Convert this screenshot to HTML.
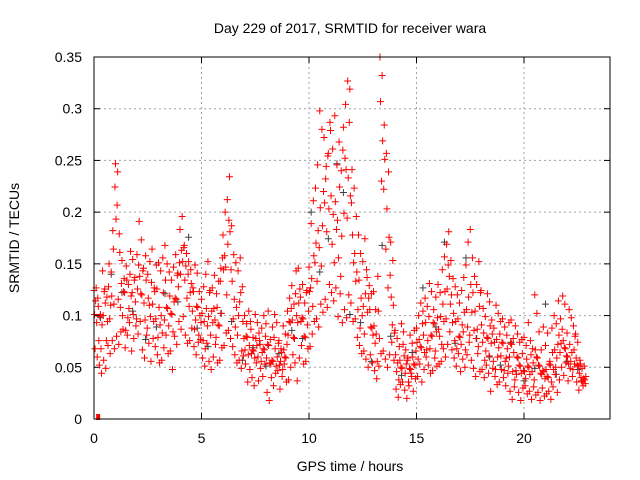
<!DOCTYPE html>
<html><head><meta charset="utf-8"><style>
body{margin:0;background:#fff}
svg{display:block;font-family:"Liberation Sans",sans-serif}
</style></head><body>
<svg id="chart" width="640" height="480">
<text x="350" y="33" text-anchor="middle" font-size="14">Day 229 of 2017, SRMTID for receiver wara</text>
<text x="350" y="471" text-anchor="middle" font-size="14">GPS time / hours</text>
<text transform="translate(19,238) rotate(-90)" text-anchor="middle" font-size="14">SRMTID / TECUs</text>
<g id="grid"></g><g id="ticks"></g><g id="marks"></g>
<rect x="94" y="57" width="516" height="362" fill="none" stroke="#000" stroke-width="1"/>
</svg>
<script>
const xTicks=[0,5,10,15,20];
const yTicks=[0,0.05,0.1,0.15,0.2,0.25,0.3,0.35];
const yTickLabels=["0","0.05","0.1","0.15","0.2","0.25","0.3","0.35"];
const step=0.1;
const redA=[.12,.13,.11,.10,.14,.13,.12,.15,.14,.16,.25,.24,.16,.15,.14,.15,.13,.16,.15,.14,.16,.19,.17,.15,.16,.14,.15,.16,.13,.15,.15,.14,.16,.17,.15,.14,.13,.15,.16,.14,.18,.20,.17,.16,.15,.14,.13,.15,.14,.12,.12,.13,.14,.15,.12,.13,.14,.12,.13,.15,.18,.20,.21,.23,.19,.16,.15,.14,.16,.13,.10,.09,.10,.09,.08,.10,.09,.08,.09,.10,.09,.10,.08,.09,.10,.09,.08,.07,.09,.08,.10,.12,.13,.11,.14,.15,.12,.13,.11,.12,.15,.19,.21,.22,.25,.30,.28,.27,.24,.26,.28,.26,.29,.25,.27,.24,.28,.30,.33,.32,.24,.22,.20,.18,.16,.15,.17,.14,.13,.12,.12,.11,.14,.35,.33,.28,.26,.24,.17,.15,.09,.08,.07,.09,.08,.07,.06,.08,.07,.09,.09,.10,.11,.10,.12,.11,.13,.12,.11,.12,.13,.12,.14,.16,.17,.18,.15,.14,.13,.12,.11,.12,.14,.15,.17,.18,.16,.14,.13,.15,.12,.11,.10,.12,.11,.10,.09,.11,.10,.09,.10,.09,.08,.09,.10,.08,.09,.08,.07,.08,.08,.07,.09,.08,.07,.12,.10,.08,.07,.09,.07,.08,.06,.09,.10,.09,.11,.10,.12,.11,.08,.11,.10,.09,.08,.07,.06,.05,.05];
const redB=[.10,.09,.08,.07,.10,.11,.09,.10,.12,.11,.19,.12,.11,.10,.12,.13,.11,.12,.10,.11,.13,.14,.12,.11,.13,.12,.10,.11,.12,.13,.11,.10,.12,.13,.11,.12,.10,.11,.12,.13,.14,.15,.13,.12,.11,.13,.12,.10,.11,.10,.10,.09,.11,.10,.08,.09,.10,.11,.09,.10,.14,.15,.17,.18,.13,.12,.11,.10,.12,.09,.07,.08,.07,.06,.07,.08,.06,.07,.06,.07,.06,.07,.05,.06,.07,.06,.05,.06,.07,.06,.08,.09,.10,.08,.10,.11,.09,.10,.08,.09,.12,.14,.16,.17,.18,.20,.19,.21,.18,.20,.22,.20,.21,.19,.22,.18,.20,.24,.23,.22,.18,.16,.14,.13,.12,.11,.12,.10,.11,.09,.09,.08,.10,.31,.27,.25,.20,.18,.12,.11,.06,.05,.06,.05,.06,.05,.04,.05,.06,.05,.07,.08,.07,.08,.09,.08,.07,.08,.09,.08,.09,.10,.11,.12,.13,.14,.12,.10,.09,.10,.08,.09,.10,.11,.12,.13,.12,.10,.09,.11,.09,.08,.07,.08,.09,.08,.07,.08,.07,.06,.07,.06,.07,.06,.07,.06,.05,.06,.05,.06,.05,.06,.05,.06,.05,.07,.06,.05,.04,.05,.05,.04,.05,.06,.07,.06,.08,.07,.08,.07,.06,.07,.06,.07,.06,.05,.05,.04,.04];
const redC=[.07,.06,.05,.04,.06,.05,.07,.06,.08,.07,.08,.07,.08,.09,.07,.08,.09,.07,.08,.09,.08,.09,.07,.06,.08,.07,.06,.08,.07,.06,.05,.06,.07,.08,.06,.07,.05,.08,.07,.09,.09,.10,.08,.07,.08,.09,.07,.06,.07,.08,.06,.05,.07,.06,.05,.06,.07,.05,.06,.07,.07,.08,.09,.08,.07,.06,.05,.06,.05,.06,.05,.04,.05,.04,.03,.05,.04,.05,.04,.05,.03,.02,.04,.03,.04,.05,.03,.04,.05,.04,.04,.05,.06,.05,.04,.06,.07,.05,.06,.07,.07,.08,.09,.10,.09,.11,.10,.12,.11,.13,.12,.11,.13,.10,.12,.09,.11,.10,.12,.11,.09,.10,.08,.07,.06,.07,.06,.05,.06,.05,.05,.04,.05,.06,.07,.06,.05,.06,.07,.06,.03,.02,.03,.04,.03,.02,.03,.04,.03,.04,.04,.05,.04,.05,.06,.05,.04,.05,.06,.05,.05,.06,.07,.06,.07,.08,.07,.06,.05,.06,.05,.06,.05,.06,.07,.06,.05,.04,.06,.05,.05,.04,.05,.04,.03,.05,.04,.03,.04,.05,.04,.03,.04,.03,.02,.03,.04,.03,.02,.03,.03,.02,.03,.02,.03,.02,.03,.02,.03,.02,.02,.03,.02,.03,.04,.03,.04,.05,.04,.05,.04,.05,.04,.05,.04,.03,.04,.03,.03];
const redD=[.11,.12,.10,.09,.12,.08,.13,.11,.18,.22,.21,.18,.13,.12,.09,.10,.14,.12,.13,.10,.15,.12,.14,.10,.09,.11,.13,.09,.10,.08,.09,.08,.10,.11,.09,.10,.08,.12,.14,.15,.16,.17,.15,.14,.12,.10,.09,.11,.08,.09,.08,.07,.09,.12,.10,.11,.08,.09,.13,.16,.16,.12,.19,.14,.10,.09,.08,.11,.07,.08,.08,.06,.09,.07,.06,.07,.08,.06,.07,.08,.07,.05,.06,.08,.05,.07,.06,.05,.06,.07,.09,.11,.08,.12,.09,.13,.10,.08,.12,.10,.13,.11,.15,.13,.17,.15,.22,.23,.25,.29,.17,.15,.18,.16,.14,.26,.25,.19,.29,.21,.15,.13,.11,.09,.10,.08,.14,.12,.09,.08,.07,.06,.08,.23,.22,.16,.13,.14,.09,.08,.05,.04,.05,.07,.04,.06,.05,.04,.05,.07,.06,.07,.09,.06,.07,.10,.08,.09,.07,.10,.08,.07,.09,.10,.15,.11,.09,.08,.07,.08,.07,.08,.07,.09,.08,.10,.09,.08,.07,.12,.07,.06,.08,.06,.07,.06,.05,.06,.08,.07,.05,.06,.05,.07,.05,.04,.06,.05,.04,.05,.04,.05,.04,.05,.04,.06,.05,.04,.05,.04,.04,.05,.04,.05,.05,.07,.06,.09,.07,.06,.05,.06,.05,.08,.05,.04,.04,.04,.04];
const grayT=[0.3,0.8,1.3,1.8,2.4,2.9,3.3,3.9,4.4,4.8,5.3,5.9,6.4,6.9,7.4,8.0,8.6,9.2,9.7,10.1,10.5,10.9,11.3,11.6,11.9,12.4,12.9,13.4,13.8,14.3,14.8,15.3,15.9,16.3,16.8,17.3,17.8,18.4,18.9,19.4,20.0,20.5,21.0,21.5,22.0,22.5];
const grayV=[.10,.14,.12,.10,.08,.09,.12,.11,.18,.09,.07,.10,.09,.06,.07,.05,.06,.09,.08,.20,.14,.17,.25,.22,.10,.09,.06,.17,.08,.04,.06,.13,.09,.17,.07,.16,.08,.06,.05,.07,.04,.05,.11,.04,.06,.05];
const L=94,R=610,T=57,B=419,xMax=24,yMax=0.35;
const xs=v=>L+(R-L)*v/xMax, ys=v=>B-(B-T)*v/yMax;
const NS='http://www.w3.org/2000/svg';
const grid=document.getElementById('grid'),ticks=document.getElementById('ticks'),marks=document.getElementById('marks');
function mk(tag,attrs,parent){const e=document.createElementNS(NS,tag);for(const k in attrs)e.setAttribute(k,attrs[k]);parent.appendChild(e);return e;}
yTicks.forEach((v,i)=>{const y=ys(v);
 if(i>0&&i<yTicks.length-1){const g=mk('line',{x1:L,x2:R,y1:y,y2:y,stroke:'#a0a0a0','stroke-dasharray':'2,3'},grid);
 
 }
 const t=mk('text',{x:82,y:y+5,'text-anchor':'end','font-size':'14'},ticks);t.textContent=yTickLabels[i];
 
 
 mk('line',{x1:L,x2:L+6,y1:y,y2:y,stroke:'#000'},ticks);mk('line',{x1:R,x2:R-6,y1:y,y2:y,stroke:'#000'},ticks);});
xTicks.forEach(v=>{const x=xs(v);
 if(v>0){const g=mk('line',{x1:x,x2:x,y1:T,y2:B,stroke:'#a0a0a0','stroke-dasharray':'2,3'},grid);
 
 }
 const t=mk('text',{x:x,y:443,'text-anchor':'middle','font-size':'14'},ticks);t.textContent=v;
 
 
 mk('line',{x1:x,x2:x,y1:B,y2:B-6,stroke:'#000'},ticks);mk('line',{x1:x,x2:x,y1:T,y2:T+6,stroke:'#000'},ticks);});
function plus(x,y,c,name){const p=mk('path',{d:`M${x-3.5},${y}h7M${x},${y-3.5}v7`,stroke:c,'stroke-width':'1',fill:'none'},marks);
 
 }
// small display-only pixel offset to avoid visual banding of rounded readings
const jit=(i,k)=>(((i*7+k*3)%9)-4)*1.1;
grayT.forEach((t,i)=>plus(xs(t),ys(grayV[i])+jit(i,5),'#404040','gray-point'));
[redA,redB,redC,redD].forEach((arr,k)=>arr.forEach((v,i)=>plus(xs(i*step+k*0.025),Math.min(B,ys(v)+jit(i,k)),'#ff0000','red-point')));
const sq=mk('rect',{x:xs(0.1),y:B-5,width:4,height:6,fill:'#ff0000'},marks);


</script>
</body></html>
